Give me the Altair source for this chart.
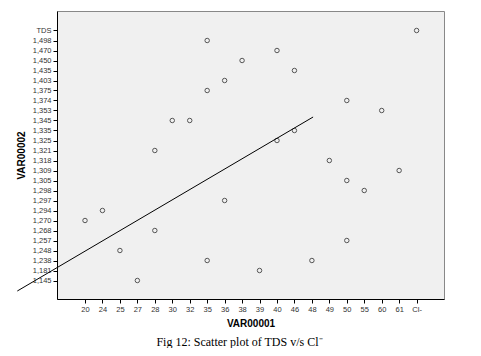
import altair as alt
import pandas as pd

# Category axes (as printed in the SPSS output)
x_cats = ['20', '24', '25', '27', '28', '30', '32', '35', '36', '38', '39', '40',
          '46', '48', '49', '50', '55', '60', '61', 'Cl-']
y_cats = ['1,145', '1,181', '1,238', '1,248', '1,257', '1,268', '1,270', '1,294',
          '1,297', '1,298', '1,305', '1,309', '1,318', '1,321', '1,325', '1,335',
          '1,345', '1,353', '1,374', '1,375', '1,403', '1,435', '1,450', '1,470',
          '1,498', 'TDS']

# Observations (VAR00001 category, VAR00002 category)
pts_x = ['35', '40', '38', '46', '36', '35', '50', '60', '30', '32', '46', '40', '28',
         '49', '61', '50', '55', '36', '24', '20', '28', '50', '25', '35', '48', '39',
         '27', 'Cl-']
pts_y = ['1,498', '1,470', '1,450', '1,435', '1,403', '1,375', '1,374', '1,353',
         '1,345', '1,345', '1,335', '1,325', '1,321', '1,318', '1,309', '1,305',
         '1,298', '1,297', '1,294', '1,270', '1,268', '1,257', '1,248', '1,238',
         '1,238', '1,181', '1,145', 'TDS']

# Fit line end points (in category-rank units)
fit_x = [-3.88, 13.07]
fit_y = [-1.05, 16.35]

df = pd.DataFrame({
    'xi': [x_cats.index(v) for v in pts_x],
    'yi': [y_cats.index(v) for v in pts_y],
    'VAR00001': pts_x,
    'VAR00002': pts_y,
})
fit = pd.DataFrame({'xi': fit_x, 'yi': fit_y})

x_expr = "[" + ",".join(f"'{c}'" for c in x_cats) + "][datum.value]"
y_expr = "[" + ",".join(f"'{c}'" for c in y_cats) + "][datum.value]"

xscale = alt.Scale(domain=[-1.605, 20.57], nice=False, zero=False)
yscale = alt.Scale(domain=[-1.85, 26.95], nice=False, zero=False)

axis_style = dict(
    grid=False, domainColor='black', domainWidth=1, tickColor='black', tickSize=4,
    tickWidth=1, labelFont='Liberation Sans', labelFontSize=7.5, labelColor='#333333',
    labelPadding=2, labelOverlap=False, labelFlush=False,
    titleFont='Liberation Sans', titleFontSize=10, titleFontWeight='bold',
    titleColor='black',
)

xaxis = alt.Axis(values=list(range(len(x_cats))), labelExpr=x_expr, title='VAR00001',
                 labelAngle=0, titlePadding=6, **axis_style)
yaxis = alt.Axis(values=list(range(len(y_cats))), labelExpr=y_expr, title='VAR00002',
                 titlePadding=6, **axis_style)

points = alt.Chart(df).mark_point(
    shape='circle', filled=False, size=20, stroke='#555555', strokeWidth=1, opacity=1
).encode(
    x=alt.X('xi:Q', scale=xscale, axis=xaxis),
    y=alt.Y('yi:Q', scale=yscale, axis=yaxis),
)

line = alt.Chart(fit).mark_line(color='black', strokeWidth=1, clip=False).encode(
    x=alt.X('xi:Q', scale=xscale, axis=xaxis),
    y=alt.Y('yi:Q', scale=yscale, axis=yaxis),
)

chart = alt.layer(points, line).properties(
    width=387,
    height=288,
    background='white',
    autosize=alt.AutoSizeParams(type='none'),
    padding={'left': 49, 'top': 3, 'right': 29, 'bottom': 49},
    title=alt.TitleParams(
        'Fig 12: Scatter plot of TDS v/s Cl\u207b',
        orient='bottom', font='Liberation Serif', fontSize=12, fontWeight='normal',
        color='black', dx=-11, offset=8, anchor='middle'
    ),
).configure_view(
    fill='#f0f0f0', stroke='#888888', strokeWidth=1
)

chart.save('out.html', embed_options={'renderer': 'svg', 'actions': False})
